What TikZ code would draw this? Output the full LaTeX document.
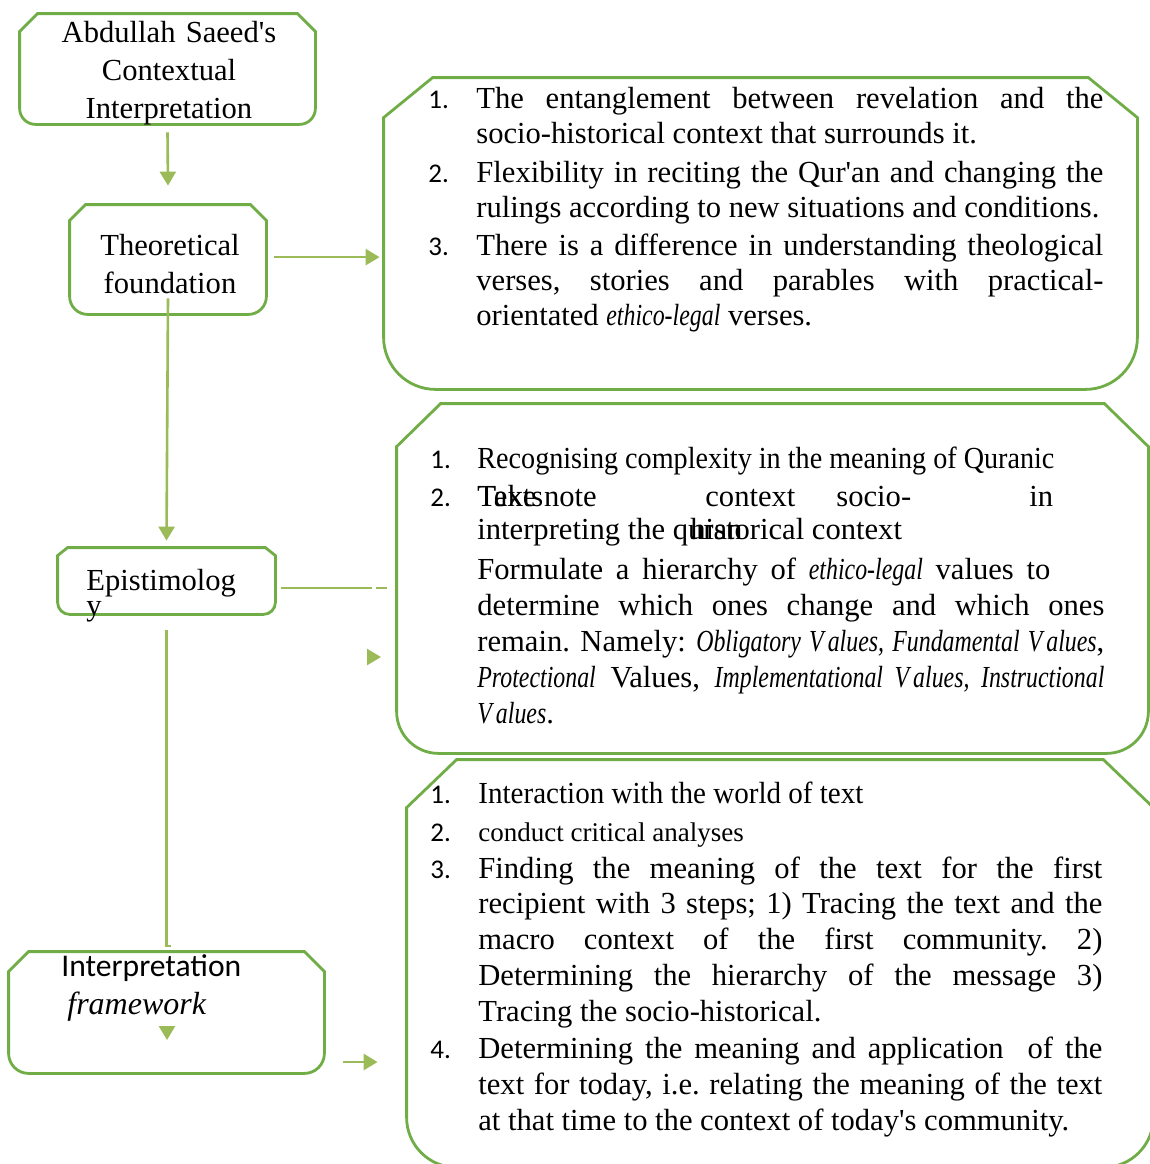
\documentclass[tikz,border=0pt]{standalone}
\usepackage{fontspec}
\setmainfont{Liberation Serif}[ItalicFeatures={FakeStretch=0.78}]
\newfontfamily\plainserif{Liberation Serif}
\newfontfamily\condensed{Liberation Serif}[FakeStretch=0.92]
\newfontfamily\calibri{Carlito}
\usetikzlibrary{arrows.meta,positioning,calc,fit}
\definecolor{boxgreen}{RGB}{112,173,71}
\definecolor{arrgreen}{RGB}{155,187,89}

\begin{document}
\begin{tikzpicture}[
  x=0.5pt, y=-0.5pt,
  font=\fontsize{15.3}{17.5}\selectfont,
  boxarea/.style={inner sep=0pt, draw=none},
  outline/.style={draw=boxgreen, line width=1.4pt},
  link/.style={draw=arrgreen, line width=1.3pt},
  arr/.style={link, -{Triangle[length=7pt,width=8pt]}},
  title/.style={inner sep=0pt, anchor=base, text width=150pt, align=center, font=\fontsize{15.3}{19}\selectfont},
  word/.style={inner sep=0pt, anchor=base west},
  num/.style={inner sep=0pt, anchor=base west, font=\calibri\fontsize{13.5}{15}\selectfont},
  item/.style={inner sep=0pt, anchor=base west, text width=#1, align=justify,
    execute at begin node={\frenchspacing\tolerance=10000\hbadness=10000}},
  item/.default=313.5pt
]

\useasboundingbox (0,0) rectangle (1150,1164);
\clip (0,0) rectangle (1150,1164);

% Box areas
\node[boxarea, fit={(20,14) (315,124)}] (saeed) {};
\node[boxarea, fit={(70,205) (266,314)}] (theory) {};
\node[boxarea, fit={(58,548) (275,614)}] (episteme) {};
\node[boxarea, fit={(9,952) (324,1073)}] (framebox) {};
\node[boxarea, fit={(384,78) (1137,389)}] (found) {};
\node[boxarea, fit={(397,404) (1148,753)}] (epilist) {};
\node[boxarea, fit={(407,760) (1153,1167)}] (steps) {};

% Snipped outlines, round bottom corners
\foreach \n/\cx/\cy/\r in {saeed/9pt/9pt/8pt, theory/8pt/8pt/9pt, episteme/5pt/4pt/6pt,
    framebox/10pt/10pt/10pt, found/24.5pt/20pt/26pt, epilist/22pt/21.5pt/21pt, steps/25pt/24pt/25pt}{
  \draw[outline] ([yshift=-\cy]\n.north west) -- ([yshift=\r]\n.south west)
    arc[start angle=180, end angle=270, radius=\r] -- ([xshift=-\r]\n.south east)
    arc[start angle=270, end angle=360, radius=\r] -- ([yshift=-\cy]\n.north east)
    -- ([xshift=-\cx]\n.north east) -- ([xshift=\cx]\n.north west) -- cycle;
}

% Left column labels
\node[title] (saeedtext) at (169,42) {Abdullah Saeed\textquotesingle s\\Contextual\\Interpretation};
\node[title] (theorytext) at (170,255) {Theoretical\\foundation};
\node[word] (epitext) at (86,590) {Epistimolog};
\node[word] (epitail) at (86,615) {y};
\node[word, font=\calibri\fontsize{15.8}{19}\selectfont] (frametext) at (61,976) {Interpretation};
\node[word, font=\plainserif\itshape\fontsize{16}{19}\selectfont] (frameit) at (67,1014) {framework};

% Theoretical foundation list
\node[num] (n11) at (428,108) {1.};
\node[item] (i11) at (476,108) {The entanglement between revelation and the\linebreak
  socio-historical context that surrounds it.};
\node[num] (n12) at (428,182) {2.};
\node[item] (i12) at (476,182) {Flexibility in reciting the Qur\textquotesingle an and changing the\linebreak
  rulings according to new situations and conditions.};
\node[num] (n13) at (428,255) {3.};
\node[item] (i13) at (476,255) {There is a difference in understanding theological\linebreak
  verses, stories and parables with practical-\linebreak orientated \textit{ethico-legal} verses.};

% Epistemology list
\node[num] (n21) at (430,468) {1.};
\node[word, font=\condensed\fontsize{15.3}{17.5}\selectfont] (i21) at (477,468) {Recognising complexity in the meaning of Quranic};
\node[num] (n22) at (430,506) {2.};
\node[word] (i22a) at (477,506) {Texts};
\node[word] (i22b) at (477,506) {Take note};
\node[word] (i22c) at (705,506) {context};
\node[word] (i22d) at (836,506) {socio-};
\node[word] (i22e) at (1029,506) {in};
\node[word] (i22f) at (477,539) {interpreting the quran};
\node[word] (i22g) at (690,539) {historical context};
\node[item, font=\fontsize{15.3}{18}\selectfont] (i23) at (477,579)
  {\makebox[286.5pt][s]{Formulate a hierarchy of \textit{ethico-legal} values to}\linebreak
  determine which ones change and which ones\linebreak
  remain. Namely: \textit{Obligatory V\kern2pt alues, Fundamental V\kern2pt alues}, \linebreak
  \textit{Protectional} Values, \textit{Implementational V\kern2pt alues, Instructional}\linebreak
  \textit{V\kern2pt alues}.};

% Interpretation framework list
\node[num] (n31) at (430,803) {1.};
\node[word] (i31) at (478,803) {\addfontfeatures{FakeStretch=0.95}Interaction with the world of text};
\node[num] (n32) at (430,841) {2.};
\node[word, font=\fontsize{13.5}{16}\selectfont] (i32) at (478,841) {conduct critical analyses};
\node[num] (n33) at (430,878) {3.};
\node[item=312pt, font=\fontsize{15.3}{17.9}\selectfont] (i33) at (478,878)
  {Finding the meaning of the text for the first\linebreak
  recipient with 3 steps; 1) Tracing the text and the\linebreak
  macro context of the first community. 2)\linebreak
  Determining the hierarchy of the message 3)\linebreak
  Tracing the socio-historical.};
\node[num] (n34) at (430,1058) {4.};
\node[item=312pt, font=\fontsize{15.3}{18}\selectfont] (i34) at (478,1058)
  {Determining the meaning and application\ \ of the\linebreak
  text for today, i.e. relating the meaning of the text\linebreak
  at that time to the context of today\textquotesingle s community.};

% Connectors
\draw[arr] ([yshift=-4pt]saeed.south) -- ([yshift=9.5pt]theory.north);
\draw[arr] ([xshift=4pt,yshift=1.2pt]theory.east) -- ([xshift=-2pt,yshift=1.2pt]theory.east -| found.west);
\draw[arr] ([yshift=8pt]theory.south) -- ([yshift=3.5pt]episteme.north);

\coordinate (epibreak) at (372,588);
\draw[link] ([xshift=3pt,yshift=-3.5pt]episteme.east) -- (epibreak);
\draw[link] ([xshift=2pt]epibreak) -- ([xshift=7.5pt]epibreak);
\coordinate (epitip) at (381,657);
\draw[arr] ([xshift=-7pt]epitip) -- (epitip);

\coordinate (downbend) at (171,946);
\draw[link] ([yshift=-8pt]episteme.south) -- (episteme.south |- downbend) -- (downbend);
\coordinate (frametip) at (167,1040);
\draw[arr] ([yshift=7pt]frametip) -- (frametip);

\coordinate (frameout) at (343,1062);
\draw[arr] (frameout) -- ([xshift=-14.5pt]frameout -| steps.west);

\end{tikzpicture}
\end{document}
